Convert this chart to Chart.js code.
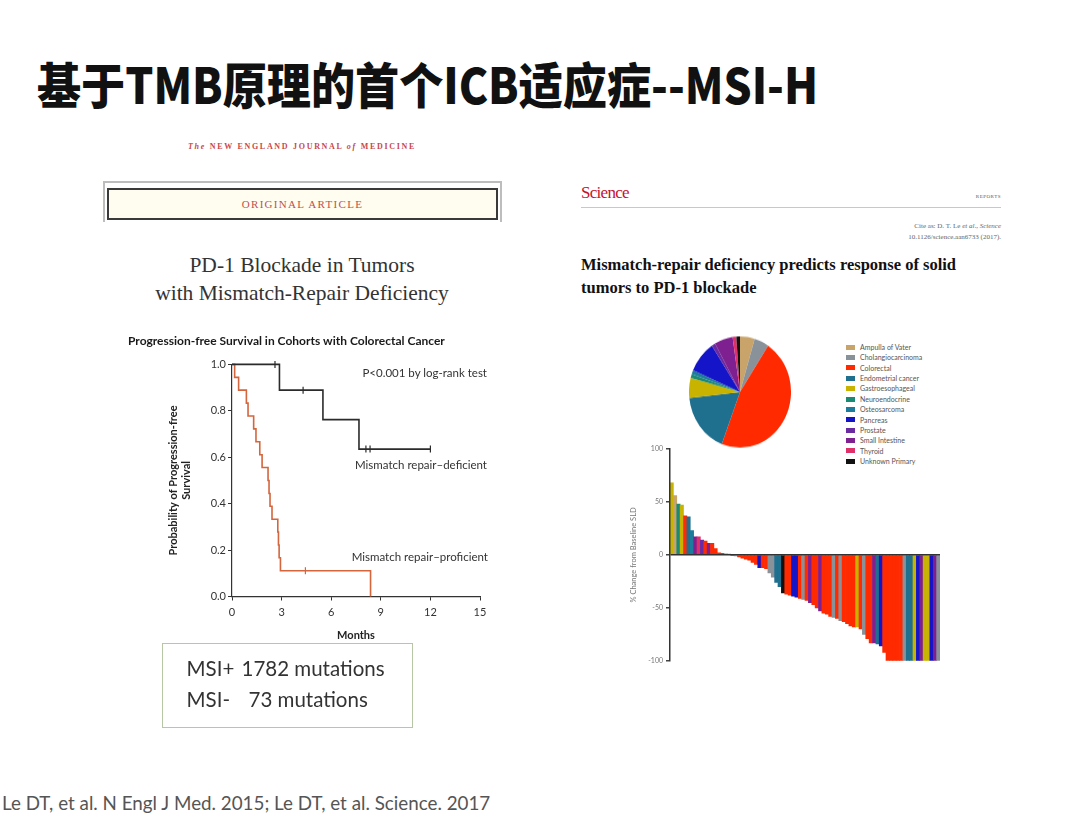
<!DOCTYPE html>
<html lang="zh-CN">
<head>
<meta charset="utf-8">
<title>基于TMB原理的首个ICB适应症--MSI-H</title>
<script src="https://cdn.jsdelivr.net/npm/chart.js@4.4.1/dist/chart.umd.min.js"></script>
<style>
  html, body { margin: 0; padding: 0; background: #fff; }
  body { width: 1080px; height: 817px; position: relative; overflow: hidden; font-family: Lato, "Noto Sans", sans-serif; }
  .abs { position: absolute; white-space: nowrap; }
  .serif { font-family: "Liberation Serif", "DejaVu Serif", serif; }
  #title { left: 37px; top: 50px; font-family: "Noto Sans CJK SC", sans-serif; font-weight: 900; font-size: 49px; line-height: 66px; color: #111; transform-origin: 0 0; transform: scaleX(0.9); }
  #nejm { left: 0; width: 604px; top: 141px; text-align: center; font-weight: bold; font-size: 8px; line-height: 12px; letter-spacing: 1.7px; color: #c9474a; }
  #artOuter { left: 103px; top: 181px; width: 399px; height: 41px; box-sizing: border-box; border: 2px solid #bdbdbd; border-bottom: none; }
  #artInner { left: 107px; top: 188px; width: 391px; height: 32px; box-sizing: border-box; border: 2px solid #3a3a3a; background: #fffdf0; text-align: center; font-size: 11px; line-height: 28px; letter-spacing: 1.3px; color: #c0504d; }
  #nejmTitle { left: 0; width: 604px; top: 251px; text-align: center; font-size: 21.5px; line-height: 28px; color: #333; }
  .kmNote { font-size: 11.5px; line-height: 14px; color: #333; text-align: right; }
  #msiBox { left: 162px; top: 643px; width: 251px; height: 85px; box-sizing: border-box; border: 1.5px solid #b7c6a5; padding: 9px 0 0 23.5px; font-size: 20.5px; line-height: 31px; color: #333; }
  #msiBox span { display: inline-block; }
  #footer { left: 2px; top: 791px; font-size: 18.8px; line-height: 24px; color: #555; }
  #sciLogo { left: 581px; top: 183px; font-size: 17px; line-height: 20px; letter-spacing: -0.7px; color: #c8102e; }
  #sciReports { left: 950px; width: 51px; top: 194px; text-align: right; font-size: 5px; line-height: 6px; letter-spacing: 0.5px; color: #555; }
  #sciRule { left: 581px; top: 207px; width: 420px; height: 0; border-top: 1.5px solid #c8c8c8; }
  #sciCite { left: 800px; width: 201px; top: 221px; text-align: right; font-size: 7px; line-height: 11px; color: #666; }
  #sciTitle { left: 581px; top: 253px; font-weight: bold; font-size: 16.5px; line-height: 23px; color: #111; }
  #legend { left: 846px; top: 342px; font-size: 7px; color: #555; }
  #legend div { height: 10.36px; line-height: 10.36px; }
  #legend i { display: inline-block; width: 9px; height: 5px; margin-right: 5px; vertical-align: middle; position: relative; top: -1px; }
</style>
</head>
<body>
<div id="title" class="abs">基于TMB原理的首个ICB适应症--MSI-H</div>

<div id="nejm" class="abs serif"><i>The</i> NEW ENGLAND JOURNAL <i>of</i> MEDICINE</div>
<div id="artOuter" class="abs"></div>
<div id="artInner" class="abs serif">ORIGINAL ARTICLE</div>
<div id="nejmTitle" class="abs serif">PD-1 Blockade in Tumors<br>with Mismatch-Repair Deficiency</div>

<div class="abs" style="left:128px; top:332px; width:372px; height:313px;"><canvas id="km"></canvas></div>
<div class="abs kmNote" style="right:593px; top:366px;">P&lt;0.001 by log-rank test</div>
<div class="abs kmNote" style="right:593px; top:458px;">Mismatch repair–deficient</div>
<div class="abs kmNote" style="right:592px; top:550px;">Mismatch repair–proficient</div>

<div id="msiBox" class="abs"><span style="width:55px">MSI+</span>1782 mutations<br><span style="width:62px">MSI-</span>73 mutations</div>
<div id="footer" class="abs">Le DT, et al. N Engl J Med. 2015; Le DT, et al. Science. 2017</div>

<div id="sciLogo" class="abs serif">Science</div>
<div id="sciReports" class="abs serif">REPORTS</div>
<div id="sciRule" class="abs"></div>
<div id="sciCite" class="abs serif">Cite as: D. T. Le <i>et al</i>., <i>Science</i><br>10.1126/science.aan6733 (2017).</div>
<div id="sciTitle" class="abs serif">Mismatch-repair deficiency predicts response of solid<br>tumors to PD-1 blockade</div>

<div class="abs" style="left:689px; top:339.5px; width:102px; height:104px; transform:scaleY(1.09);"><canvas id="pie"></canvas></div>
<div id="legend" class="abs"></div>

<div class="abs" style="left:610px; top:440px; width:335px; height:228px;"><canvas id="wf"></canvas></div>

<script>
// Kaplan-Meier, progression-free survival (months)
const kmDefTime = [0, 2.87, 5.5, 7.68, 12];
const kmDefSurv = [1, 0.889, 0.762, 0.635, 0.635];
const kmDefCensorTime = [2.6, 4.3, 8.1, 8.35, 12];
const kmDefCensorSurv = [1, 0.889, 0.635, 0.635, 0.635];

const kmProTime = [0, 0.16, 0.4, 0.87, 0.97, 1.31, 1.45, 1.68, 1.82, 2.18, 2.24, 2.3, 2.42, 2.77, 2.81, 2.85, 2.93, 8.38];
const kmProSurv = [1, 0.944, 0.889, 0.833, 0.778, 0.722, 0.667, 0.611, 0.556, 0.5, 0.444, 0.389, 0.333, 0.278, 0.222, 0.167, 0.111, 0];
const kmProCensorTime = [4.44];
const kmProCensorSurv = [0.111];

// tumour types (pie + waterfall)
const tumorTypes = ['Ampulla of Vater', 'Cholangiocarcinoma', 'Colorectal', 'Endometrial cancer', 'Gastroesophageal',
  'Neuroendocrine', 'Osteosarcoma', 'Pancreas', 'Prostate', 'Small Intestine', 'Thyroid', 'Unknown Primary'];
const tumorCounts = [4, 4, 40, 15, 5, 1, 1, 8, 1, 5, 1, 1];
const tumorColors = ['#c9a46a', '#8a9299', '#ff2a00', '#1f6f8f', '#c8b400', '#1a8a74',
  '#1d7c9c', '#1414c8', '#6a2aa0', '#7e2090', '#e0306a', '#111111'];

// waterfall: best % change from baseline SLD, and tumour type index per patient
const sldChange = [68, 56, 48, 47, 37, 36, 23, 17, 17, 14, 13, 11, 11, 6, 2, 1.5, 1, 0.5, -0.5, -1,
  -2, -3, -4, -5, -7, -9, -12, -12, -13, -17, -21, -26, -30, -36, -37, -38, -39, -40, -41, -42,
  -43, -45, -47, -50, -53, -55, -56, -58, -59, -60, -62, -63, -65, -67, -68, -68, -70, -75, -79, -83,
  -83, -84, -86, -92, -100, -100, -100, -100, -100, -100, -100, -100, -100, -100, -100, -100, -100, -100, -100, -100];
const sldType = [4, 0, 5, 4, 2, 3, 6, 9, 10, 8, 2, 9, 2, 2, 2, 2, 1, 1, 1, 1,
  2, 2, 2, 2, 2, 2, 7, 2, 2, 1, 1, 3, 3, 11, 2, 2, 7, 7, 2, 1,
  2, 9, 2, 2, 9, 2, 2, 2, 1, 2, 1, 2, 2, 2, 2, 4, 2, 1, 2, 2,
  9, 3, 7, 2, 2, 2, 2, 2, 2, 1, 3, 3, 4, 7, 9, 4, 4, 7, 9, 1];

Chart.defaults.font.family = 'Lato, "Noto Sans", sans-serif';
Chart.defaults.animation = false;

const pts = (xs, ys) => xs.map((x, i) => ({ x: x, y: ys[i] }));

new Chart(document.getElementById('km'), {
  type: 'scatter',
  data: {
    datasets: [
      { label: 'Mismatch repair–deficient', data: pts(kmDefTime, kmDefSurv), showLine: true, stepped: true,
        borderColor: '#2b2b2b', borderWidth: 1.6, pointRadius: 0, clip: false },
      { label: 'deficient censored', data: pts(kmDefCensorTime, kmDefCensorSurv), showLine: false,
        pointStyle: 'line', rotation: 90, radius: 3.5, borderColor: '#2b2b2b', borderWidth: 1.2, clip: false },
      { label: 'Mismatch repair–proficient', data: pts(kmProTime, kmProSurv), showLine: true, stepped: true,
        borderColor: '#d4653c', borderWidth: 1.6, pointRadius: 0, clip: false },
      { label: 'proficient censored', data: pts(kmProCensorTime, kmProCensorSurv), showLine: false,
        pointStyle: 'line', rotation: 90, radius: 3.5, borderColor: '#d4653c', borderWidth: 1.2, clip: false }
    ]
  },
  options: {
    responsive: true,
    maintainAspectRatio: false,
    layout: { padding: { right: 20 } },
    plugins: {
      legend: { display: false },
      tooltip: { enabled: false },
      title: {
        display: true,
        text: 'Progression-free Survival in Cohorts with Colorectal Cancer',
        align: 'start',
        color: '#1a1a1a',
        font: { size: 12, weight: 'bold' },
        padding: { top: 2, bottom: 16 }
      }
    },
    scales: {
      x: {
        type: 'linear', min: 0, max: 15,
        ticks: { stepSize: 3, color: '#333', font: { size: 11 }, padding: 5 },
        grid: { drawOnChartArea: false, tickLength: 4, tickColor: '#333' },
        border: { color: '#333', width: 1.2 },
        title: { display: true, text: 'Months', color: '#222', font: { size: 11, weight: 'bold' }, padding: { top: 0, bottom: 2.5 } },
        afterFit: s => { s.height = 48.5; }
      },
      y: {
        min: 0, max: 1,
        ticks: { stepSize: 0.2, color: '#333', font: { size: 11 }, padding: 2, callback: v => v.toFixed(1) },
        grid: { drawOnChartArea: false, tickLength: 4, tickColor: '#333' },
        border: { color: '#333', width: 1.2 },
        title: { display: true, text: ['Probability of Progression-free', 'Survival'], color: '#222',
          font: { size: 11, weight: 'bold' }, padding: { top: 39, bottom: 0 } },
        afterFit: s => { s.width = 104; }
      }
    }
  }
});

new Chart(document.getElementById('pie'), {
  type: 'pie',
  data: {
    labels: tumorTypes,
    datasets: [{ data: tumorCounts, backgroundColor: tumorColors, borderWidth: 0 }]
  },
  options: {
    responsive: true,
    maintainAspectRatio: false,
    plugins: { legend: { display: false }, tooltip: { enabled: false } }
  }
});

const legend = document.getElementById('legend');
tumorTypes.forEach((name, i) => {
  const row = document.createElement('div');
  row.innerHTML = '<i style="background:' + tumorColors[i] + '"></i>' + name;
  legend.appendChild(row);
});

new Chart(document.getElementById('wf'), {
  type: 'bar',
  data: {
    labels: sldChange.map((v, i) => String(i + 1)),
    datasets: [{
      data: sldChange,
      backgroundColor: sldType.map(t => tumorColors[t]),
      borderWidth: 0,
      categoryPercentage: 1,
      barPercentage: 1
    }]
  },
  options: {
    responsive: true,
    maintainAspectRatio: false,
    layout: { padding: { top: 9, right: 5, bottom: 6 } },
    plugins: { legend: { display: false }, tooltip: { enabled: false } },
    scales: {
      x: { display: false },
      y: {
        min: -100, max: 100,
        ticks: { stepSize: 50, color: '#777', font: { size: 7 }, padding: 3 },
        grid: {
          z: 1,
          color: c => (c.tick && c.tick.value === 0) ? '#333' : 'rgba(0,0,0,0)',
          lineWidth: 1.5,
          tickColor: '#444',
          tickLength: 4
        },
        border: { z: 2, color: '#333', width: 1.5 },
        title: { display: true, text: '% Change from Baseline SLD', color: '#777', font: { size: 7.5 }, padding: { top: 19, bottom: 0 } },
        afterFit: s => { s.width = 60; }
      }
    }
  }
});
</script>
</body>
</html>
